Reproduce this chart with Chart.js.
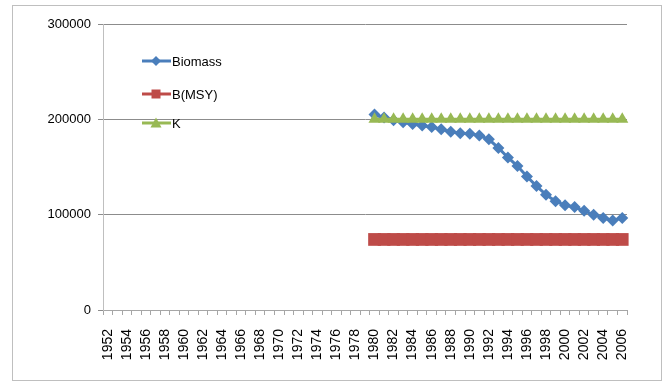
<!DOCTYPE html>
<html>
<head>
<meta charset="utf-8">
<script src="https://cdn.jsdelivr.net/npm/chart.js@4.4.1/dist/chart.umd.min.js"></script>
<style>
  html, body { margin: 0; padding: 0; background: #ffffff; }
  #wrap { position: relative; width: 664px; height: 382px; }
</style>
</head>
<body>
<div id="wrap"><canvas id="biomassChart" width="664" height="382"></canvas></div>
<script>
// categorías (años) y series
const years = [
  '1952', '1953', '1954', '1955', '1956', '1957', '1958', '1959', '1960', '1961',
  '1962', '1963', '1964', '1965', '1966', '1967', '1968', '1969', '1970', '1971',
  '1972', '1973', '1974', '1975', '1976', '1977', '1978', '1979', '1980', '1981',
  '1982', '1983', '1984', '1985', '1986', '1987', '1988', '1989', '1990', '1991',
  '1992', '1993', '1994', '1995', '1996', '1997', '1998', '1999', '2000', '2001',
  '2002', '2003', '2004', '2005', '2006'
];

// datos desde 1980 hasta 2006
const firstDataYear = '1980';
const biomass = [
  205000, 202000, 199000, 197000, 195000, 193500, 192000, 189500, 187000, 185500,
  185000, 183000, 179000, 170000, 160000, 151000, 140000, 130000, 121000, 114000,
  110000, 108000, 104000, 100000, 96500, 94000, 96500
];
const bMsy = [
  74000, 74000, 74000, 74000, 74000, 74000, 74000, 74000, 74000, 74000,
  74000, 74000, 74000, 74000, 74000, 74000, 74000, 74000, 74000, 74000,
  74000, 74000, 74000, 74000, 74000, 74000, 74000
];
const kValues = [
  200000, 200000, 200000, 200000, 200000, 200000, 200000, 200000, 200000, 200000,
  200000, 200000, 200000, 200000, 200000, 200000, 200000, 200000, 200000, 200000,
  200000, 200000, 200000, 200000, 200000, 200000, 200000
];
const yTicks = [0, 100000, 200000, 300000];

// rellena con null los años sin datos
const startIdx = years.indexOf(firstDataYear);
function padSeries(values) {
  return years.map((y, i) => (i >= startIdx ? values[i - startIdx] : null));
}

const BLUE = '#4a7ebb';
const RED = '#be4b48';
const GREEN = '#98b954';

// marcador simple para la leyenda
function drawMarker(ctx, style, x, y, r, color) {
  ctx.fillStyle = color;
  ctx.beginPath();
  if (style === 'rectRot') {
    ctx.moveTo(x, y - r); ctx.lineTo(x + r, y); ctx.lineTo(x, y + r); ctx.lineTo(x - r, y);
  } else if (style === 'rect') {
    ctx.rect(x - r, y - r, 2 * r, 2 * r);
  } else {
    ctx.moveTo(x, y - r); ctx.lineTo(x + r, y + r * 0.8); ctx.lineTo(x - r, y + r * 0.8);
  }
  ctx.closePath();
  ctx.fill();
}

// borde exterior + leyenda dentro del área
const framePlugin = {
  id: 'frame',
  beforeDraw(chart) {
    const ctx = chart.ctx;
    ctx.save();
    ctx.strokeStyle = '#bfbfbf';
    ctx.lineWidth = 1;
    ctx.strokeRect(12.5, 5.5, 649, 375);
    ctx.restore();
  },
  afterDraw(chart) {
    const ctx = chart.ctx;
    const rows = [
      { text: 'Biomass', color: BLUE, style: 'rectRot', r: 5, y: 61 },
      { text: 'B(MSY)', color: RED, style: 'rect', r: 4.5, y: 94 },
      { text: 'K', color: GREEN, style: 'triangle', r: 5.5, y: 123 }
    ];
    ctx.save();
    rows.forEach(row => {
      ctx.strokeStyle = row.color;
      ctx.lineWidth = 3;
      ctx.beginPath();
      ctx.moveTo(142, row.y);
      ctx.lineTo(171, row.y);
      ctx.stroke();
      drawMarker(ctx, row.style, 156, row.y, row.r, row.color);
      ctx.fillStyle = '#000000';
      ctx.font = '13px "Liberation Sans", Arial, sans-serif';
      ctx.textBaseline = 'middle';
      ctx.textAlign = 'left';
      ctx.fillText(row.text, 172, row.y + 1);
    });
    ctx.restore();
  }
};

const ctx = document.getElementById('biomassChart').getContext('2d');

new Chart(ctx, {
  type: 'line',
  data: {
    labels: years,
    datasets: [
      {
        label: 'Biomass',
        data: padSeries(biomass),
        borderColor: BLUE,
        backgroundColor: BLUE,
        borderWidth: 3,
        pointStyle: 'rectRot',
        pointRadius: 6,
        pointBorderWidth: 0,
        order: 3
      },
      {
        label: 'B(MSY)',
        data: padSeries(bMsy),
        borderColor: RED,
        backgroundColor: RED,
        borderWidth: 3,
        pointStyle: 'rect',
        pointRadius: 9,
        pointBorderWidth: 0,
        order: 2
      },
      {
        label: 'K',
        data: padSeries(kValues),
        borderColor: GREEN,
        backgroundColor: GREEN,
        borderWidth: 3,
        pointStyle: 'triangle',
        pointRadius: 7,
        pointBorderWidth: 0,
        order: 1
      }
    ]
  },
  options: {
    responsive: false,
    animation: false,
    layout: { padding: { left: 12, top: 24, right: 37, bottom: 0 } },
    plugins: {
      legend: { display: false },
      tooltip: { enabled: false }
    },
    scales: {
      x: {
        offset: true,
        afterFit(scale) { scale.height = 72; },
        grid: {
          offset: true,
          drawOnChartArea: false,
          drawTicks: true,
          tickLength: 5,
          color: '#a6a6a6'
        },
        border: { display: true, color: '#a6a6a6' },
        ticks: {
          autoSkip: false,
          minRotation: 90,
          maxRotation: 90,
          padding: 14,
          color: '#000000',
          font: { family: '"Liberation Sans", Arial, sans-serif', size: 14 },
          callback: function (value, index) {
            const y = years[index];
            return Number(y) % 2 === 0 ? y : '';
          }
        }
      },
      y: {
        min: 0,
        max: 300000,
        afterFit(scale) { scale.width = 91; },
        afterBuildTicks(scale) { scale.ticks = yTicks.map(v => ({ value: v })); },
        grid: {
          color: '#8c8c8c',
          tickLength: 5
        },
        border: { display: true, color: '#bfbfbf' },
        ticks: {
          padding: 7,
          color: '#000000',
          font: { family: '"Liberation Sans", Arial, sans-serif', size: 13 },
          callback: function (value) { return String(value); }
        }
      }
    }
  },
  plugins: [framePlugin]
});
</script>
</body>
</html>
